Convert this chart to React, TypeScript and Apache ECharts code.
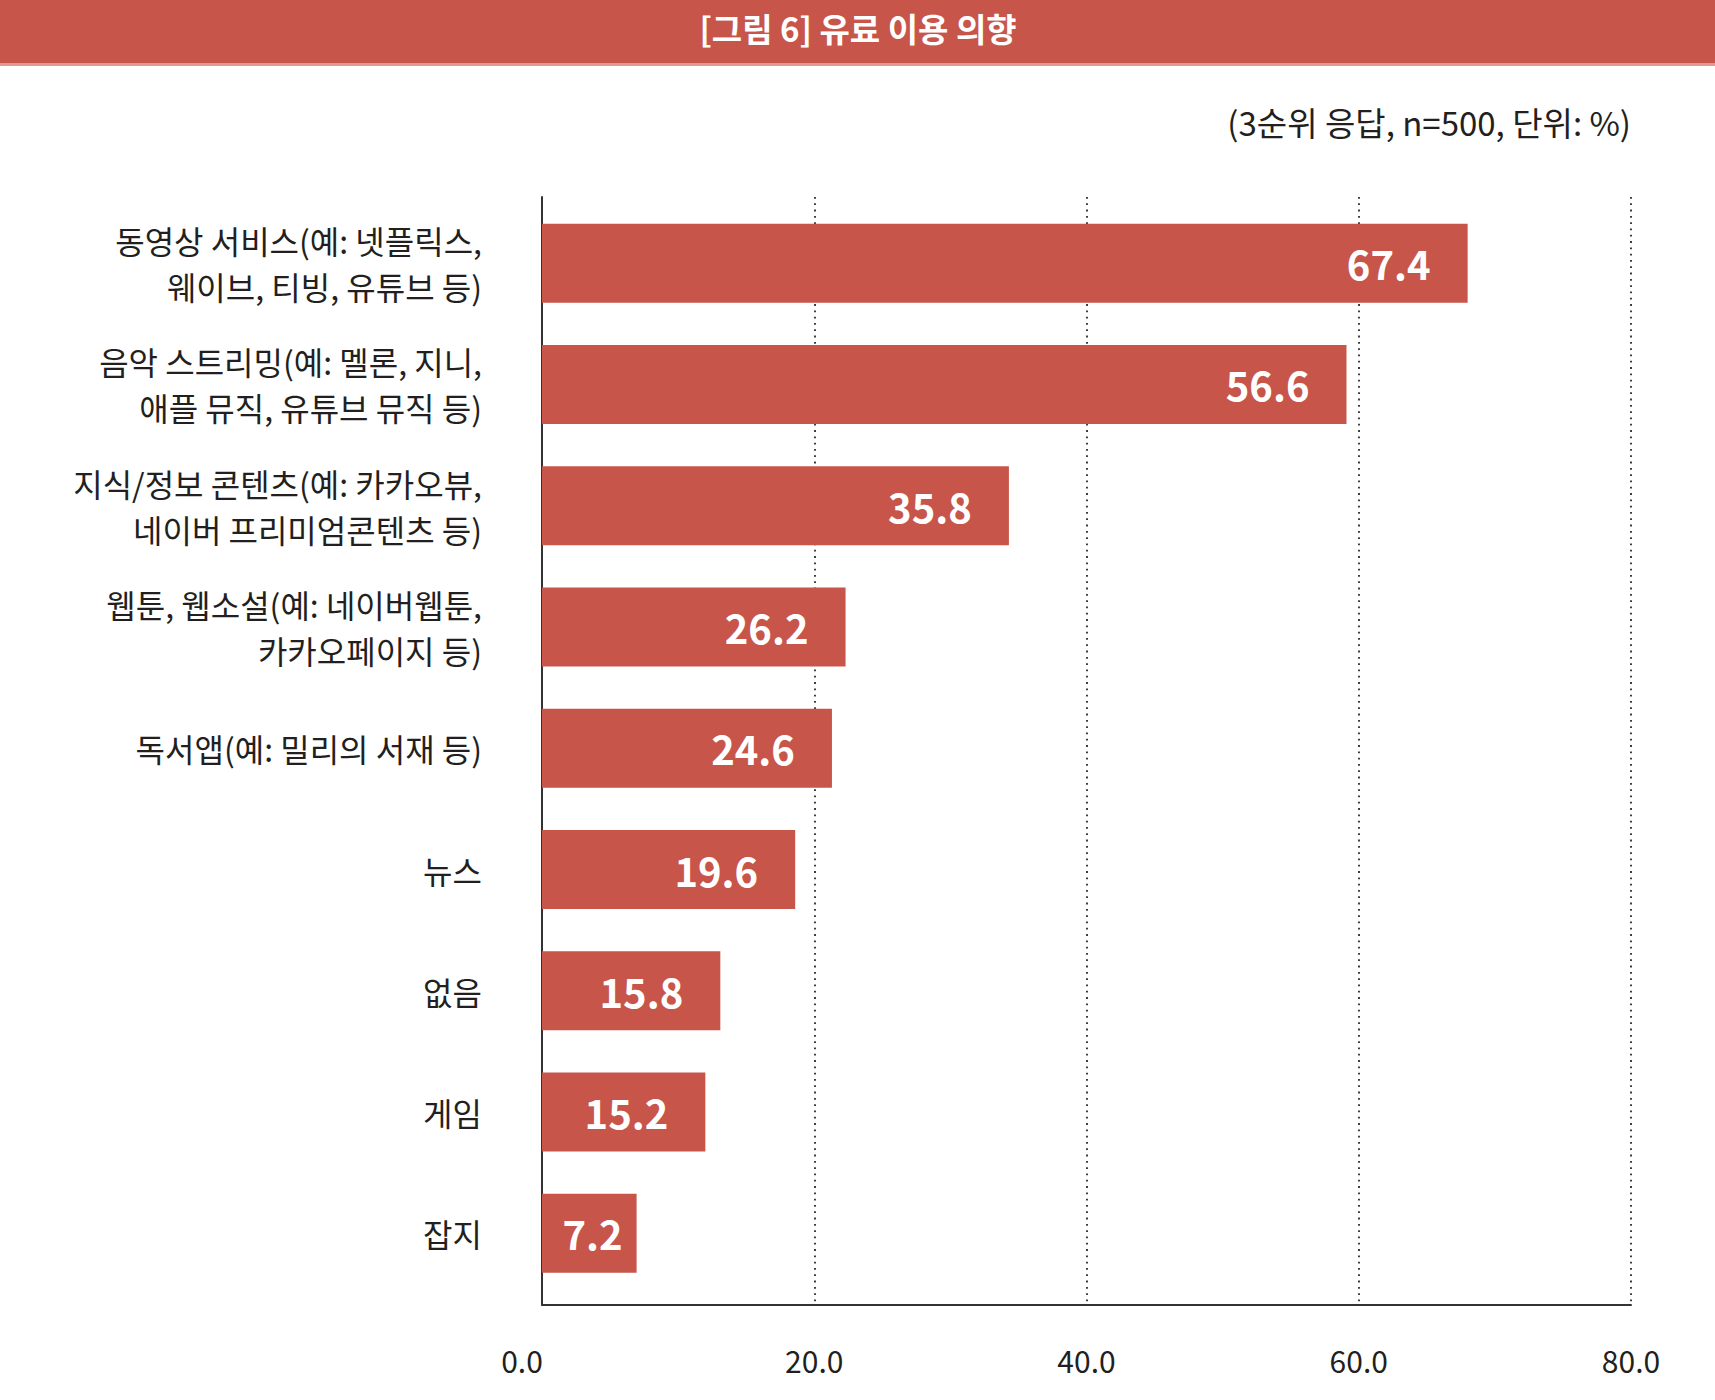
import React, { useEffect, useRef } from "react";
import * as echarts from "echarts";

const categories = [
  "동영상 서비스(예: 넷플릭스,\n웨이브, 티빙, 유튜브 등)",
  "음악 스트리밍(예: 멜론, 지니,\n애플 뮤직, 유튜브 뮤직 등)",
  "지식/정보 콘텐츠(예: 카카오뷰,\n네이버 프리미엄콘텐츠 등)",
  "웹툰, 웹소설(예: 네이버웹툰,\n카카오페이지 등)",
  "독서앱(예: 밀리의 서재 등)",
  "뉴스",
  "없음",
  "게임",
  "잡지",
];
// bar lengths as drawn in the picture
const barLengths = [68.0, 59.1, 34.3, 22.3, 21.3, 18.6, 13.1, 12.0, 6.95];
// values printed on the bars
const valueLabels = ["67.4", "56.6", "35.8", "26.2", "24.6", "19.6", "15.8", "15.2", "7.2"];
const xTickLabels = ["0.0", "20.0", "40.0", "60.0", "80.0"];
const titleText = "[그림 6] 유료 이용 의향";
const subtitleText = "(3순위 응답, n=500, 단위: %)";

const FONT = '"Noto Sans CJK KR", "Noto Sans", sans-serif';
const RED = "#C8554A";
const DARK = "#231F20";

export default function App() {
  const ref = useRef<HTMLDivElement>(null);
  useEffect(() => {
    if (!ref.current) return;
    const chart = echarts.init(ref.current, null, { renderer: "svg" });
    const barData = barLengths.map((v, i) => ({
      value: v,
      label: i === barLengths.length - 1 ? { distance: 14 } : undefined,
    }));
    chart.setOption({
      animation: false,
      backgroundColor: "#ffffff",
      textStyle: { fontFamily: FONT },
      grid: [
        { left: 542, right: 84, top: 197, bottom: 95 },
        { left: 542, right: 84, top: 202.5, bottom: 106 },
      ],
      xAxis: [
        {
          gridIndex: 0,
          type: "value",
          min: 0,
          max: 80,
          interval: 20,
          axisLine: { show: true, lineStyle: { color: "#333333", width: 2 } },
          axisTick: { show: false },
          splitLine: {
            show: true,
            lineStyle: { color: "#2a2a2a", width: 1.8, type: [1.8, 4.5] },
          },
          axisLabel: {
            margin: 40,
            fontSize: 30,
            color: DARK,
            fontFamily: FONT,
            formatter: (v: number) => {
              const idx = Math.round(v / 20);
              const t = xTickLabels[idx];
              return idx === 0 ? "{first|" + t + "}" : t;
            },
            rich: {
              first: {
                fontSize: 30,
                color: DARK,
                fontFamily: FONT,
                padding: [0, 40, 0, 0],
              },
            },
          },
        },
        {
          gridIndex: 1,
          type: "value",
          min: 0,
          max: 80,
          show: false,
        },
      ],
      yAxis: [
        {
          gridIndex: 0,
          type: "value",
          min: 0,
          max: 1,
          axisLine: { show: true, lineStyle: { color: "#333333", width: 2 } },
          axisTick: { show: false },
          axisLabel: { show: false },
          splitLine: { show: false },
        },
        {
          gridIndex: 1,
          type: "category",
          inverse: true,
          data: categories,
          axisLine: { show: false },
          axisTick: { show: false },
          splitLine: { show: false },
          axisLabel: {
            margin: 60,
            fontSize: 32,
            lineHeight: 46,
            color: DARK,
            fontFamily: FONT,
            align: "right",
          },
        },
      ],
      series: [
        {
          type: "bar",
          xAxisIndex: 1,
          yAxisIndex: 1,
          data: barData,
          barWidth: 79,
          itemStyle: { color: RED },
          label: {
            show: true,
            position: "insideRight",
            distance: 37,
            color: "#ffffff",
            fontSize: 40,
            fontWeight: "bold",
            fontFamily: FONT,
            formatter: (p: any) => valueLabels[p.dataIndex],
          },
        },
      ],
      graphic: [
        {
          type: "rect",
          shape: { x: 0, y: 0, width: 1715, height: 63 },
          style: { fill: RED },
        },
        {
          type: "rect",
          shape: { x: 0, y: 63, width: 1715, height: 3 },
          style: { fill: "#E29890" },
        },
        {
          type: "text",
          x: 858,
          y: 28,
          style: {
            text: titleText,
            fill: "#ffffff",
            fontSize: 33,
            fontWeight: "bold",
            fontFamily: FONT,
            align: "center",
            verticalAlign: "middle",
          },
        },
        {
          type: "text",
          x: 1631,
          y: 122,
          style: {
            text: subtitleText,
            fill: DARK,
            fontSize: 33,
            fontFamily: FONT,
            align: "right",
            verticalAlign: "middle",
          },
        },
      ],
    });
    return () => chart.dispose();
  }, []);
  return (
    <div
      ref={ref}
      style={{ position: "absolute", left: 0, top: 0, width: 1715, height: 1400 }}
    />
  );
}
